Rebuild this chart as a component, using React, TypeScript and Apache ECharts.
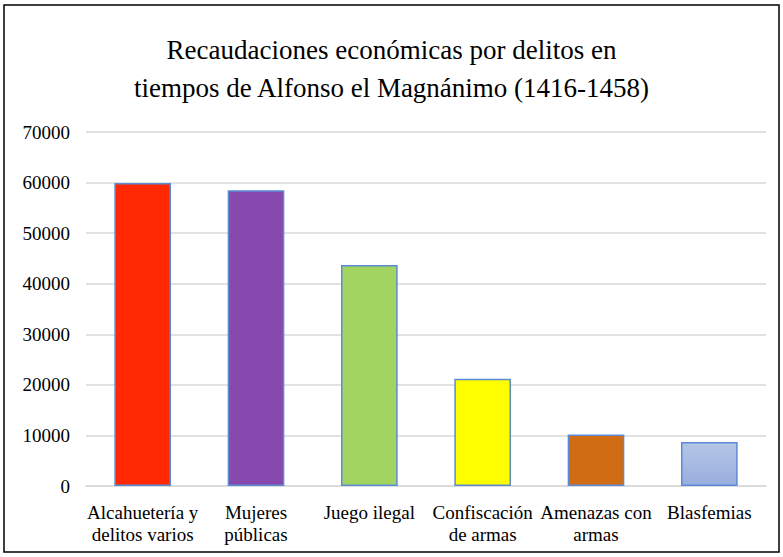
import React, { useEffect, useRef } from "react";
import * as echarts from "echarts";

const categories = [
  "Alcahuetería y\ndelitos varios",
  "Mujeres\npúblicas",
  "Juego ilegal",
  "Confiscación\nde armas",
  "Amenazas con\narmas",
  "Blasfemias",
];
const values = [59900, 58500, 43700, 21200, 10200, 8700];
const barColors: any[] = [
  "#FF2800",
  "#8749AD",
  "#A2D462",
  "#FFFF00",
  "#D06C14",
  null,
];
const yTicks = { min: 0, max: 70000, interval: 10000 };
const titleText = "Recaudaciones económicas por delitos en\ntiempos de Alfonso el Magnánimo (1416-1458)";

const FONT = "Liberation Serif";

export default function App() {
  const ref = useRef<HTMLDivElement>(null);
  useEffect(() => {
    if (!ref.current) return;
    const chart = echarts.init(ref.current, null, { renderer: "svg" });
    const blueGrad = new echarts.graphic.LinearGradient(0, 0, 0, 1, [
      { offset: 0, color: "#B5C5E5" },
      { offset: 1, color: "#98AEDD" },
    ]);
    chart.setOption({
      animation: false,
      backgroundColor: "#ffffff",
      title: {
        text: titleText,
        left: "center",
        top: 26,
        textStyle: {
          fontFamily: FONT,
          fontSize: 27,
          fontWeight: "normal",
          color: "#000000",
          lineHeight: 38,
        },
      },
      graphic: [
        {
          type: "rect",
          shape: { x: 4, y: 5, width: 775, height: 547 },
          style: { fill: "none", stroke: "#000000", lineWidth: 1.5 },
          silent: true,
        },
      ],
      grid: { left: 86, right: 17, top: 132, bottom: 71 },
      xAxis: {
        type: "category",
        data: categories,
        axisLine: { show: true, lineStyle: { color: "#D9D9D9", width: 1.5 } },
        axisTick: { show: false },
        axisLabel: {
          interval: 0,
          margin: 15,
          fontFamily: FONT,
          fontSize: 19,
          lineHeight: 22,
          color: "#000000",
        },
      },
      yAxis: {
        type: "value",
        min: yTicks.min,
        max: yTicks.max,
        interval: yTicks.interval,
        axisLine: { show: false },
        axisTick: { show: false },
        splitLine: { lineStyle: { color: "#D9D9D9", width: 1.5 } },
        axisLabel: {
          margin: 16,
          fontFamily: FONT,
          fontSize: 19,
          color: "#000000",
          formatter: (v: number) => String(v),
        },
      },
      series: [
        {
          type: "bar",
          barWidth: "50%",
          data: values.map((v, i) => ({
            value: v,
            itemStyle: {
              color: barColors[i] ?? blueGrad,
              borderColor: "#5B8BD6",
              borderWidth: 1.5,
            },
          })),
        },
      ],
    });
    return () => chart.dispose();
  }, []);
  return (
    <div
      ref={ref}
      style={{ position: "fixed", left: 0, top: 0, width: 783, height: 557 }}
    />
  );
}
